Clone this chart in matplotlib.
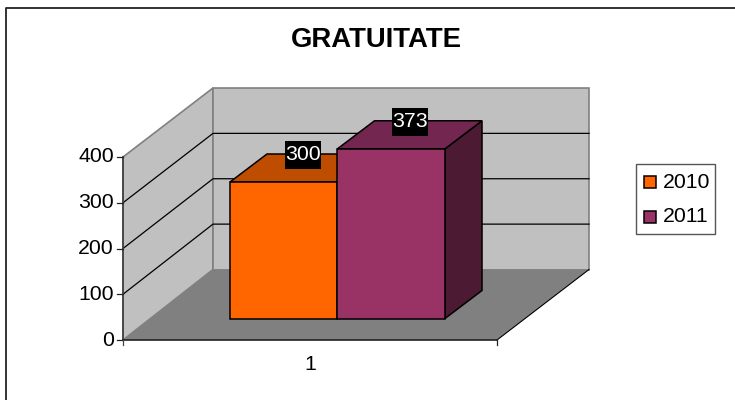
import matplotlib
matplotlib.use('Agg')
from matplotlib import pyplot as plt
from matplotlib.patches import Polygon, Rectangle

plt.rcParams['font.family'] = ['Liberation Sans', 'DejaVu Sans']

title = 'GRATUITATE'
categories = ['1']
series = ['2010', '2011']
values = [300, 373]
colors = ['#FF6600', '#993366']
top_colors = ['#BF4D00', '#732650']
side_colors = ['#BF4D00', '#4D1A33']
y_ticks = [0, 100, 200, 300, 400]

# the picture is a 3d excel chart, so everything is projected by hand in pixels
x0, x1 = 123, 497
y0 = 340
unit = 183 / 400
back_x0, back_x1 = 213, 589
back_y0 = 269.5
back_unit = 181.5 / 400
bar_left = 230
bar_w = 107.5
bar_base = 318.5
bar_unit = 0.455
bar_dx, bar_dy = 37, -28
fs = 15.3

fig = plt.figure(figsize=(7.35, 4), dpi=100)
ax = fig.add_axes([0, 0, 1, 1])
ax.set_xlim(0, 735)
ax.set_ylim(400, 0)
ax.axis('off')


def val_y(v):
    return y0 - v * unit


def back_y(v):
    return back_y0 - v * back_unit


def poly(pts, fc, ec='black', lw=1.1, z=2):
    ax.add_patch(Polygon(pts, closed=True, fc=fc, ec=ec, lw=lw, zorder=z, joinstyle='miter'))


# only top and left of the outer frame show
ax.plot([6, 6, 735], [400, 7.5, 7.5], color='#222222', lw=1.3, zorder=0)

# walls and floor
top = val_y(y_ticks[-1])
btop = back_y(y_ticks[-1])
poly([(x0, y0), (back_x0, back_y0), (back_x0, btop), (x0, top)], '#C0C0C0', '#808080', 1.2, 1)
poly([(back_x0, back_y0), (back_x1, back_y0), (back_x1, btop), (back_x0, btop)], '#C0C0C0', '#808080', 1.2, 1)
poly([(x0, y0), (x1, y0), (back_x1, back_y0), (back_x0, back_y0)], '#808080', 'none', 0, 1.2)

# gridlines
for t in y_ticks[1:-1]:
    ax.plot([x0, back_x0, back_x1], [val_y(t), back_y(t), back_y(t)], color='black', lw=0.9, zorder=1.5)
ax.plot([x1, back_x1], [y0, back_y0], color='black', lw=0.8, zorder=1.5)

# axes lines and ticks
ax.plot([x0, x0], [y0, top], color='#444444', lw=1.3, zorder=1.6)
ax.plot([x0, x1], [y0, y0], color='#222222', lw=1.2, zorder=1.6)
for t in y_ticks:
    y = val_y(t)
    ax.plot([x0 - 5.5, x0], [y, y], color='#222222', lw=0.9, zorder=1.6)
    ax.text(x0 - 9, y, str(t), ha='right', va='center', fontsize=fs, color='black')
ax.plot([x0, x0], [y0, y0 + 5], color='#444444', lw=0.9, zorder=1.6)
ax.plot([x1, x1], [y0, y0 + 5], color='#222222', lw=0.9, zorder=1.6)
ax.text((x0 + x1) / 2, 364, categories[0], ha='center', va='center', fontsize=fs)

# bars
for i, v in enumerate(values):
    l = bar_left + i * bar_w
    r = l + bar_w
    t = bar_base - v * bar_unit
    z = 3 + i
    poly([(r, bar_base), (r + bar_dx, bar_base + bar_dy), (r + bar_dx, t + bar_dy), (r, t)], side_colors[i], z=z)
    poly([(l, t), (r, t), (r + bar_dx, t + bar_dy), (l + bar_dx, t + bar_dy)], top_colors[i], z=z)
    poly([(l, bar_base), (r, bar_base), (r, t), (l, t)], colors[i], z=z)

# value labels sit on a black box
for i, v in enumerate(values):
    l = bar_left + i * bar_w
    t = bar_base - v * bar_unit
    cx = l + (bar_w + bar_dx) / 2 + 0.5
    cy = t + bar_dy + 1
    ax.add_patch(Rectangle((cx - 18, cy - 14), 36, 28, fc='black', ec='none', zorder=6))
    ax.text(cx, cy, str(v), ha='center', va='center', fontsize=fs, color='white', zorder=7)

ax.text(376, 40, title, ha='center', va='center', fontsize=19.8, fontweight='bold')

# legend
ax.add_patch(Rectangle((636, 164), 79, 70, fc='white', ec='#555555', lw=1, zorder=2))
for i, s in enumerate(series):
    y = 182 + i * 35
    ax.add_patch(Rectangle((644, y - 6), 12, 12, fc=colors[i], ec='black', lw=1.1, zorder=3))
    ax.text(663, y, s, ha='left', va='center', fontsize=fs)

fig.savefig('out.png', dpi=100)
